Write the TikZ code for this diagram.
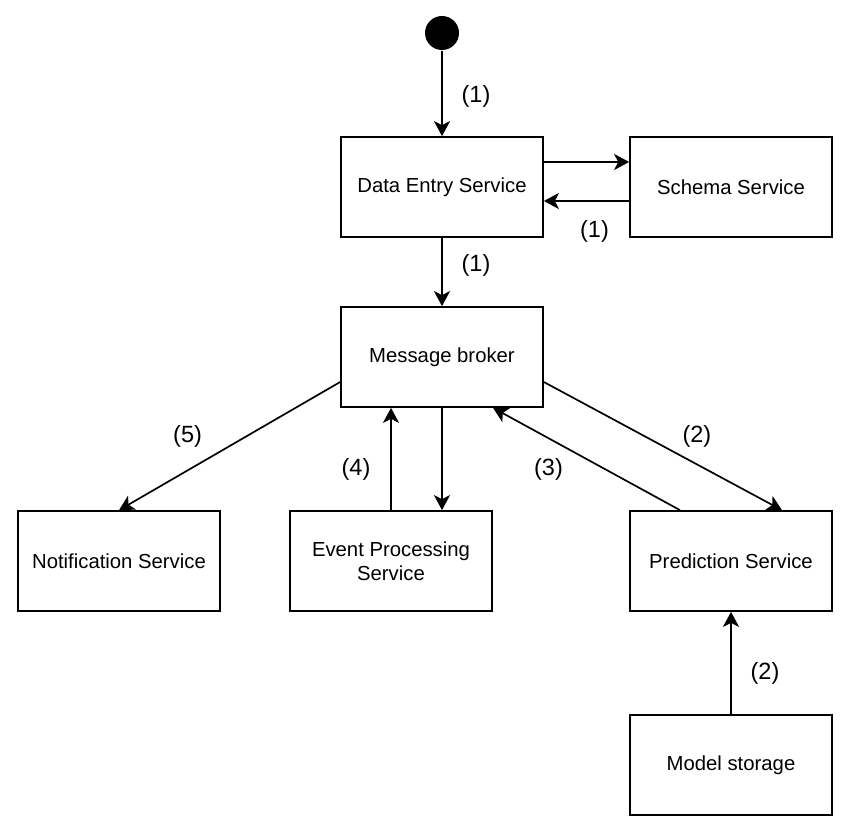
\documentclass[tikz,border=0pt]{standalone}
\usepackage{fontspec}
\setmainfont{Liberation Sans}
\usetikzlibrary{arrows.meta}

\begin{document}
\begin{tikzpicture}[x=1pt,y=-1pt,line width=1.7pt,>={Stealth[length=15pt,width=16pt,inset=4pt]},
    font=\fontsize{20.3}{24}\selectfont,
    box/.style={draw,minimum width=202pt,minimum height=100pt,inner sep=0pt,align=center},
    lbl/.style={inner sep=0pt,midway,font=\fontsize{23.5}{28}\selectfont}]
    \useasboundingbox (0,0) rectangle (851,834);

    \node[circle,fill,minimum size=34pt,inner sep=0pt] (start) at (442,33) {};
    \node[box] (entry) at (442,187) {Data Entry Service};
    \node[box] (schema) at (731,187) {Schema Service};
    \node[box] (broker) at (442,357) {Message broker};
    \node[box] (notify) at (119,561) {Notification Service};
    \node[box] (event) at (391,561) {Event Processing\\Service};
    \node[box] (predict) at (731,561) {Prediction Service};
    \node[box] (storage) at (731,765) {Model storage};

    \draw[->] (start) -- node[lbl,xshift=34pt,yshift=-3pt] (lab1a) {(1)} (entry);
    \draw[->] ([yshift=25pt]entry.east) -- ([yshift=25pt]schema.west);
    \draw[->] ([yshift=-14pt]schema.west) -- node[lbl,xshift=8pt,yshift=-30pt] (lab1b) {(1)} ([yshift=-14pt]entry.east);
    \draw[->] (entry) -- node[lbl,xshift=34pt,yshift=7pt] (lab1c) {(1)} (broker);
    \draw[->] ([yshift=-25pt]broker.west) -- node[lbl,xshift=-42pt,yshift=10pt] (lab5) {(5)} (notify.north);
    \draw[->] (event.north) -- node[lbl,xshift=-35pt,yshift=-10pt] (lab4) {(4)} (event.north |- broker.south);
    \draw[->] (broker.south) -- (broker.south |- event.north);
    \draw[->] ([xshift=-51pt]predict.north) -- node[lbl,xshift=-38pt,yshift=-10pt] (lab3) {(3)} ([xshift=51pt]broker.south);
    \draw[->] ([yshift=-25pt]broker.east) -- node[lbl,xshift=34pt,yshift=10pt] (lab2a) {(2)} ([xshift=51pt]predict.north);
    \draw[->] (storage) -- node[lbl,xshift=34pt,yshift=-10pt] (lab2b) {(2)} (predict);
\end{tikzpicture}
\end{document}
